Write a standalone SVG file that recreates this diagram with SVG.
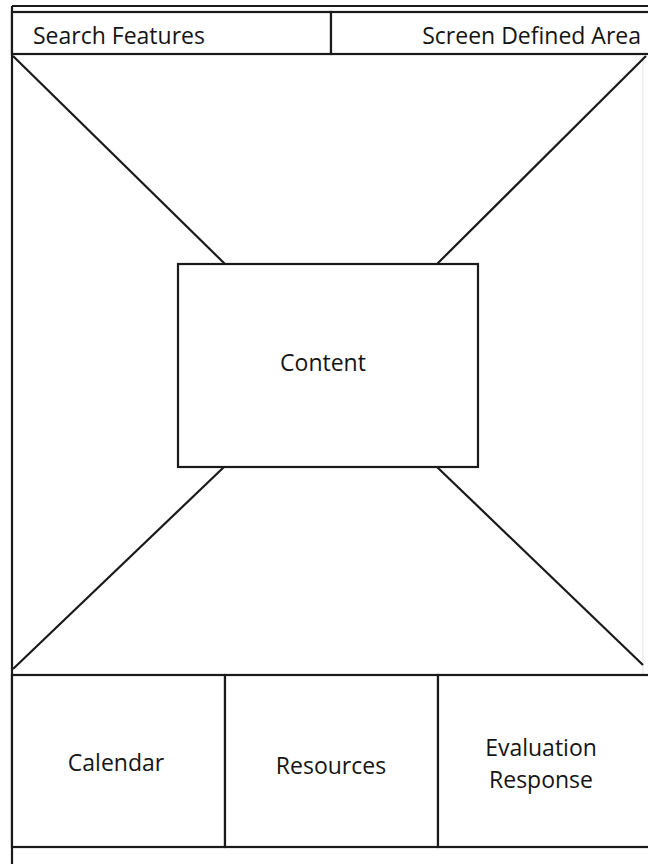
<svg xmlns="http://www.w3.org/2000/svg" width="648" height="864" viewBox="0 0 648 864">
  <style>
    .ln { stroke: #1a1a1a; stroke-width: 2.2; fill: none; }
    .faint { stroke: #ececec; stroke-width: 1.5; fill: none; }
    .box { stroke: #1a1a1a; stroke-width: 2.2; fill: #ffffff; }
    .lbl { font-family: "Open Sans", "Liberation Sans", sans-serif; font-size: 23px; fill: #151515; }
  </style>
  <rect x="0" y="0" width="648" height="864" fill="#ffffff"/>

  <!-- page frame -->
  <g id="frame">
    <line class="faint" x1="643" y1="56" x2="643" y2="847"/>
    <line class="ln" x1="12" y1="6" x2="648" y2="6"/>
    <line class="ln" x1="12" y1="6" x2="12" y2="864"/>
  </g>

  <!-- header bar -->
  <g id="search-features">
    <rect class="box" x="12" y="12" width="319" height="42"/>
    <text class="lbl" x="33" y="44">Search Features</text>
  </g>
  <g id="screen-defined-area">
    <rect class="box" x="331" y="12" width="320" height="42"/>
    <text class="lbl" x="641" y="44" text-anchor="end">Screen Defined Area</text>
  </g>

  <!-- perspective lines from the corners to the content box -->
  <g id="connectors">
    <line class="ln" x1="13" y1="56" x2="225" y2="264"/>
    <line class="ln" x1="646" y1="56" x2="437" y2="264"/>
    <line class="ln" x1="13" y1="669" x2="224" y2="467"/>
    <line class="ln" x1="643" y1="665" x2="437" y2="467"/>
  </g>

  <g id="content">
    <rect class="box" x="178" y="264" width="300" height="203"/>
    <text class="lbl" x="323" y="371" text-anchor="middle">Content</text>
  </g>

  <!-- footer row -->
  <g id="calendar">
    <rect class="box" x="12" y="675" width="213" height="172"/>
    <text class="lbl" x="116" y="771" text-anchor="middle">Calendar</text>
  </g>
  <g id="resources">
    <rect class="box" x="225" y="675" width="213" height="172"/>
    <text class="lbl" x="331" y="774" text-anchor="middle">Resources</text>
  </g>
  <g id="evaluation-response">
    <rect class="box" x="438" y="675" width="213" height="172"/>
    <text class="lbl" x="541" y="756" text-anchor="middle">Evaluation</text>
    <text class="lbl" x="541" y="788" text-anchor="middle">Response</text>
  </g>
</svg>
